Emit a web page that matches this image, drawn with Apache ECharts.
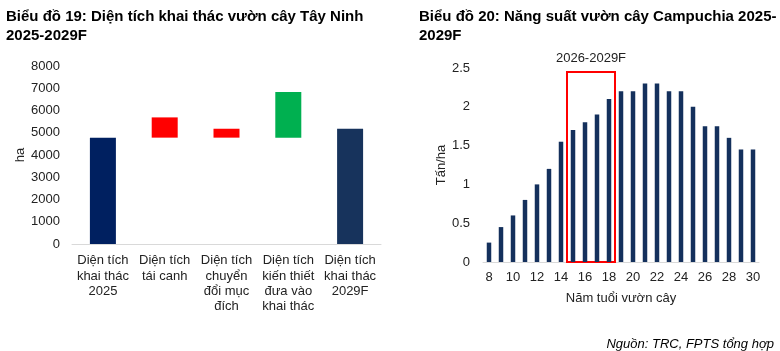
<!DOCTYPE html>
<html>
<head>
<meta charset="utf-8">
<script src="https://cdn.jsdelivr.net/npm/echarts@6/dist/echarts.min.js"></script>
<style>
  html, body { margin: 0; padding: 0; background: #fff; }
  #chart { width: 780px; height: 351px; }
</style>
</head>
<body>
<div id="chart"></div>
<script>
  // Biểu đồ 19 - waterfall
  var areaCats = ['Diện tích\nkhai thác\n2025', 'Diện tích\ntái canh', 'Diện tích\nchuyển\nđổi mục\nđích', 'Diện tích\nkiến thiết\nđưa vào\nkhai thác', 'Diện tích\nkhai thác\n2029F'];
  var areaBase = [0, 4780, 4780, 4780, 0];
  var areaVals = [4780, 910, 400, 2050, 5180];
  var areaColors = ['#002060', '#ff0000', '#ff0000', '#00b050', '#17335c'];
  var areaTicks = [0, 1000, 2000, 3000, 4000, 5000, 6000, 7000, 8000];

  // Biểu đồ 20 - năng suất theo tuổi cây
  var ages = ['8','9','10','11','12','13','14','15','16','17','18','19','20','21','22','23','24','25','26','27','28','29','30'];
  var yieldVals = [0.25, 0.45, 0.6, 0.8, 1.0, 1.2, 1.55, 1.7, 1.8, 1.9, 2.1, 2.2, 2.2, 2.3, 2.3, 2.2, 2.2, 2.0, 1.75, 1.75, 1.6, 1.45, 1.45];
  var forecastRange = ['15', '18'];

  var axisText = { color: '#222', fontSize: 13, fontFamily: 'Liberation Sans, Arial, sans-serif' };
  var myChart = echarts.init(document.getElementById('chart'));
  var option = {
    animation: false,
    textStyle: { fontFamily: 'Liberation Sans, Arial, sans-serif' },
    title: [
      {
        text: 'Biểu đồ 19: Diện tích khai thác vườn cây Tây Ninh\n2025-2029F',
        left: 1, top: 2,
        textStyle: { fontSize: 15, fontWeight: 'bold', color: '#000', lineHeight: 19 }
      },
      {
        text: 'Biểu đồ 20: Năng suất vườn cây Campuchia 2025-\n2029F',
        left: 414, top: 2,
        textStyle: { fontSize: 15, fontWeight: 'bold', color: '#000', lineHeight: 19 }
      },
      {
        text: 'Nguồn: TRC, FPTS tổng hợp',
        right: 1, top: 333,
        textStyle: { fontSize: 13, fontStyle: 'italic', fontWeight: 'normal', color: '#000' }
      }
    ],
    grid: [
      { left: 72, top: 66, width: 309, height: 178 },
      { left: 483, top: 68, width: 276, height: 194 }
    ],
    xAxis: [
      {
        gridIndex: 0, type: 'category', data: areaCats,
        axisLine: { lineStyle: { color: '#d9d9d9' } },
        axisTick: { show: false },
        axisLabel: Object.assign({ interval: 0, margin: 9, lineHeight: 15.3 }, axisText)
      },
      {
        gridIndex: 1, type: 'category', data: ages,
        name: 'Năm tuổi vườn cây', nameLocation: 'middle', nameGap: 30,
        nameTextStyle: axisText,
        axisLine: { lineStyle: { color: '#d9d9d9' } },
        axisTick: { show: false },
        axisLabel: Object.assign({ interval: 1, margin: 9 }, axisText)
      }
    ],
    yAxis: [
      {
        gridIndex: 0, type: 'value', min: areaTicks[0], max: areaTicks[areaTicks.length - 1], interval: 1000,
        name: 'ha', nameLocation: 'middle', nameGap: 41,
        nameTextStyle: axisText,
        axisLine: { show: false }, axisTick: { show: false }, splitLine: { show: false },
        axisLabel: Object.assign({ margin: 12, formatter: function (v) { return String(v); } }, axisText)
      },
      {
        gridIndex: 1, type: 'value', min: 0, max: 2.5, interval: 0.5,
        name: 'Tấn/ha', nameLocation: 'middle', nameGap: 34,
        nameTextStyle: axisText,
        axisLine: { show: false }, axisTick: { show: false }, splitLine: { show: false },
        axisLabel: Object.assign({ margin: 13 }, axisText)
      }
    ],
    series: [
      {
        type: 'bar', xAxisIndex: 0, yAxisIndex: 0, stack: 'wf',
        data: areaBase, barWidth: 26,
        itemStyle: { color: 'transparent' }, silent: true
      },
      {
        type: 'bar', xAxisIndex: 0, yAxisIndex: 0, stack: 'wf',
        barWidth: 26,
        data: areaVals.map(function (v, i) {
          return { value: v, itemStyle: { color: areaColors[i] } };
        })
      },
      {
        type: 'bar', xAxisIndex: 1, yAxisIndex: 1,
        data: yieldVals, barWidth: 4.5,
        itemStyle: { color: '#14305c' },
        markArea: {
          silent: true,
          itemStyle: { color: 'rgba(0,0,0,0)', borderColor: '#ff0000', borderWidth: 2 },
          label: { show: true, position: 'top', distance: 6, color: '#222', fontSize: 13 },
          data: [[
            { name: '2026-2029F', xAxis: forecastRange[0], yAxis: 2.45 },
            { xAxis: forecastRange[1], yAxis: -0.03 }
          ]]
        }
      }
    ]
  };
  myChart.setOption(option);
  window.onresize = function () { myChart.resize(); };
</script>
</body>
</html>
